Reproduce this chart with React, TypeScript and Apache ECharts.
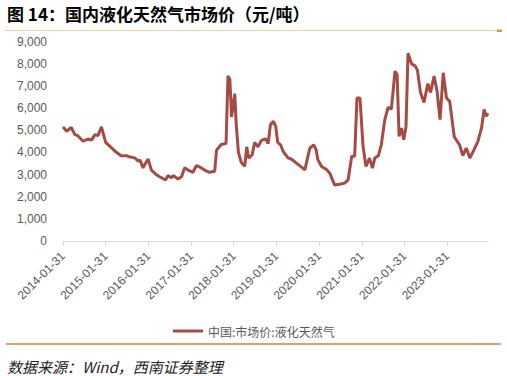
import React, { useEffect, useRef } from 'react';
import * as echarts from 'echarts';

const titleText = '图 14：国内液化天然气市场价（元/吨）';
const sourceText = '数据来源：Wind，西南证券整理';
const seriesName = '中国:市场价:液化天然气';

const yearTickDates = [
  '2014-01-31', '2015-01-31', '2016-01-31', '2017-01-31', '2018-01-31',
  '2019-01-31', '2020-01-31', '2021-01-31', '2022-01-31', '2023-01-31',
];

const dates = [
  '2014-01-31', '2014-02-28', '2014-04-10', '2014-05-10', '2014-06-05', '2014-07-20', '2014-08-31', '2014-09-30', '2014-10-31', '2014-11-25', '2014-12-25',
  '2015-01-31', '2015-03-20', '2015-04-30', '2015-06-10', '2015-07-25', '2015-08-20', '2015-10-05', '2015-11-05', '2015-11-20', '2015-12-15',
  '2016-01-28', '2016-02-25', '2016-04-05', '2016-05-05', '2016-06-25', '2016-07-15', '2016-08-15', '2016-08-30', '2016-10-10', '2016-11-10', '2016-12-05',
  '2017-01-05', '2017-02-15', '2017-03-15', '2017-04-10', '2017-05-25', '2017-07-05', '2017-08-20', '2017-09-05', '2017-10-15', '2017-11-25', '2017-12-12', '2017-12-28',
  '2018-01-12', '2018-02-08', '2018-02-20', '2018-03-10', '2018-04-03', '2018-05-03', '2018-05-20', '2018-06-05', '2018-07-05', '2018-07-28', '2018-08-25', '2018-09-25', '2018-10-31', '2018-11-20', '2018-12-10',
  '2019-01-05', '2019-01-25', '2019-02-10', '2019-03-05', '2019-03-28', '2019-05-10', '2019-06-05', '2019-07-20', '2019-08-20', '2019-09-30', '2019-10-20', '2019-11-12', '2019-12-15',
  '2020-01-05', '2020-01-20', '2020-02-20', '2020-04-05', '2020-04-30', '2020-06-10', '2020-07-25', '2020-09-05', '2020-10-05', '2020-11-05', '2020-11-30', '2020-12-20',
  '2021-01-15', '2021-02-10', '2021-03-05', '2021-04-05', '2021-04-30', '2021-05-20', '2021-06-20', '2021-07-15', '2021-08-15', '2021-09-12', '2021-10-10', '2021-11-10', '2021-11-28', '2021-12-15',
  '2022-01-05', '2022-01-25', '2022-02-12', '2022-02-28', '2022-03-31', '2022-04-30', '2022-05-20', '2022-06-15', '2022-07-15', '2022-08-18', '2022-09-10', '2022-10-10', '2022-11-05', '2022-11-30', '2022-12-28',
  '2023-01-25', '2023-02-20', '2023-03-31', '2023-04-25', '2023-05-15', '2023-06-12', '2023-07-12', '2023-08-12', '2023-09-15', '2023-10-20', '2023-11-20', '2023-12-12', '2023-12-31', '2024-01-15',
];

const prices = [
  5150, 4950, 5120, 4800, 4750, 4500, 4600, 4550, 4800, 4750, 5150,
  4450, 4200, 4000, 3850, 3850, 3800, 3750, 3600, 3650, 3300,
  3700, 3200, 3000, 2900, 2750, 2950, 2850, 2950, 2800, 2900, 3300,
  3200, 3100, 3400, 3350, 3200, 3100, 3150, 4100, 4350, 4400, 7450, 7300,
  5600, 6650, 5200, 4000, 3550, 3370, 4250, 3740, 3880, 4450, 4250, 4550, 4600, 4400, 5250,
  5400, 5170, 4450, 4340, 4040, 3740, 3700, 3510, 3390, 3210, 3670, 4190, 4340,
  4120, 3670, 3360, 3210, 3060, 2530, 2560, 2610, 2760, 3820, 3820, 6450,
  6450, 4270, 3360, 3740, 3290, 3740, 3850, 4340, 5480, 6030, 5950, 7660, 7510, 4720,
  5100, 4570, 5170, 8470, 7990, 7900, 7700, 6700, 6250, 7100, 6700, 7440, 6750, 5480, 7590,
  6450, 6300, 4700, 4490, 4340, 3850, 4190, 3740, 4100, 4490, 5100, 5930, 5630, 5750,
];

function monthIndex(d: string): number {
  const [y, m, day] = d.split('-').map(Number);
  const dim = new Date(y, m, 0).getDate();
  return (y - 2014) * 12 + (m - 1) + day / dim - 1;
}

export default function App() {
  const ref = useRef<HTMLDivElement>(null);
  useEffect(() => {
    if (!ref.current) return;
    const chart = echarts.init(ref.current, undefined, { renderer: 'svg' });
    const tickVals = yearTickDates.map(monthIndex);
    const seriesData = dates.map((d, i) => [monthIndex(d), prices[i]]);
    const xMax = monthIndex(dates[dates.length - 1]);
    chart.setOption({
      animation: false,
      backgroundColor: '#ffffff',
      grid: { left: 63, right: 507 - 488, top: 41.5, bottom: 135, containLabel: false },
      xAxis: {
        type: 'value',
        min: 0,
        max: xMax,
        axisLine: { show: true, lineStyle: { color: '#d9d9d9', width: 1 } },
        axisTick: { show: true, customValues: tickVals, length: 5, lineStyle: { color: '#d9d9d9' } },
        splitLine: { show: false },
        axisLabel: {
          customValues: tickVals,
          rotate: 45,
          margin: 13,
          color: '#595959',
          fontSize: 12,
          fontFamily: "'Liberation Sans', Arial, sans-serif",
          formatter: (v: number) => {
            const idx = tickVals.findIndex((t) => Math.abs(t - v) < 0.01);
            return idx >= 0 ? yearTickDates[idx] : '';
          },
        },
      },
      yAxis: {
        type: 'value',
        min: 0,
        max: 9000,
        interval: 1000,
        axisLine: { show: false },
        axisTick: { show: false },
        splitLine: { show: false },
        axisLabel: {
          margin: 16,
          color: '#595959',
          fontSize: 12,
          fontFamily: "'Liberation Sans', Arial, sans-serif",
          formatter: (v: number) => v.toLocaleString('en-US'),
        },
      },
      legend: {
        show: true,
        left: 168,
        top: 320,
        icon: 'rect',
        itemWidth: 30,
        itemHeight: 3,
        textStyle: { color: '#595959', fontSize: 12, fontFamily: "'Noto Sans CJK SC', sans-serif" },
        data: [seriesName],
      },
      series: [
        {
          name: seriesName,
          type: 'line',
          data: seriesData,
          showSymbol: false,
          symbol: 'none',
          color: '#a84a44',
          lineStyle: { color: '#a84a44', width: 3 },
        },
      ],
      graphic: [
        {
          type: 'text',
          x: 7,
          y: 13,
          style: {
            text: titleText,
            font: "bold 17px 'Noto Sans CJK SC', sans-serif",
            fill: '#000000',
            verticalAlign: 'middle',
          },
        },
        {
          type: 'line',
          shape: { x1: 5, y1: 30.5, x2: 497, y2: 30.5 },
          style: { stroke: '#ebcda6', lineWidth: 1 },
        },
        {
          type: 'rect',
          shape: { x: 497, y: 29.5, width: 5, height: 2.5 },
          style: { fill: '#d99a3c' },
        },
        {
          type: 'line',
          shape: { x1: 6, y1: 344, x2: 501, y2: 344 },
          style: { stroke: '#cfa66e', lineWidth: 2 },
        },
        {
          type: 'text',
          x: 7,
          y: 366,
          style: {
            text: sourceText,
            font: "italic 15px 'Noto Sans CJK SC', sans-serif",
            fill: '#222222',
            verticalAlign: 'middle',
          },
        },
      ],
    });
    return () => chart.dispose();
  }, []);
  return (
    <div
      ref={ref}
      style={{ position: 'absolute', left: 0, top: 0, width: 507, height: 376 }}
    />
  );
}
